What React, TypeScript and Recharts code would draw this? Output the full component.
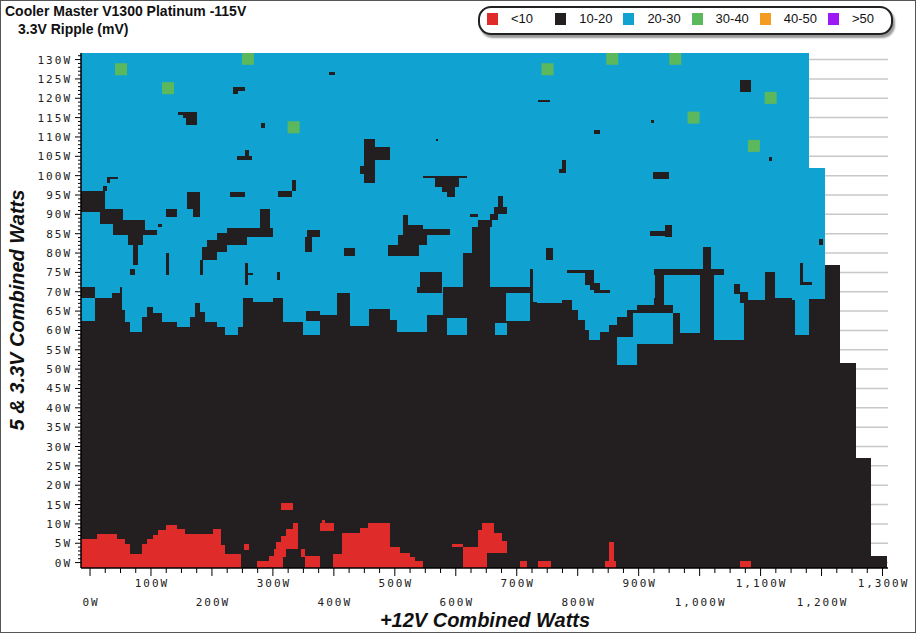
import React from 'react'
import {
  ComposedChart,
  XAxis,
  YAxis,
  CartesianGrid,
  ReferenceArea,
  Scatter
} from 'recharts'

const RED = '#e02b2b'
const BLACK = '#231f20'
const BLUE = '#10a3d1'
const GREEN = '#5cb85c'
const ORANGE = '#f39c1f'
const PURPLE = '#9b19f5'

const legendLabels = ['<10', '10-20', '20-30', '30-40', '40-50', '>50']
const legendColors = [RED, BLACK, BLUE, GREEN, ORANGE, PURPLE]

// y range of the measured grid (W on 5V & 3.3V)
const Y_MIN = -1.4
const Y_MAX = 131.7
const X_MIN = -14.8
const X_MAX = 1309

// tested load columns: [from W, to W, highest 5V+3.3V load]
const columnTops: [number, number, number][] = [
  [-14.8, 1179, 131.7],
  [1179, 1205, 102],
  [1205, 1230, 76.8],
  [1230, 1256, 51.7],
  [1256, 1281, 27],
  [1281, 1308, 1.6]
]

// where the 20-30mV zone starts (step start on +12V, 5V+3.3V load)
const blueFloor: [number, number | null][] = [
  [-14.8, 62.5], [8.2, 68.3], [35.5, 69.6], [49.3, 71.1], [52, 65.2], [57.4, 62.2],
  [65.6, 59.7], [84.7, 63.5], [93, 66.1], [104, 64.4], [117.6, 62.2], [142.2, 61],
  [164, 63.5], [172.3, 67], [180.5, 64.8], [188.7, 62.2], [207.8, 61], [221.5, 58.8],
  [243.4, 61], [251.6, 68.5], [268, 67.4], [300.8, 68.5], [317.2, 62.2], [350, 58.8],
  [377, 63.9], [405, 69.6], [427, 61.1], [457, 65.5], [492, 62.7], [503, 59.6],
  [553, 63.9], [579.5, 71.3], [722, 76], [727, 67.4], [733, 67], [774, 67.8],
  [790, 65.3], [801, 62.7], [812, 60.2], [818, 57.5], [837, 59.6], [851, 61.5],
  [864, 63.5], [881, 65.3], [897, 66.5], [924.5, 68.5], [941, 66.5], [957, 64.4],
  [968, 59.3], [1001, 62], [1023, 57.5], [1072, 69.5], [1075, 67.8], [1124, 68.5],
  [1151, 67.8], [1157, 58.8], [1179, 68.2], [1205, null]
]

// 10-20mV pockets inside the 20-30mV zone: [x1, x2, y1, y2]
const blackIslands: [number, number, number, number][] = [
  [-14.8, 24.6, 90.7, 96.1], [22, 27.3, 96.1, 97.4], [16.4, 54.7, 87.6, 91.5],
  [38.3, 90.2, 84.6, 88.5], [54.7, 109.4, 84.6, 85.9], [62.9, 87.5, 82.1, 84.6],
  [71.1, 79.3, 76.9, 82.1], [65.6, 73.8, 74.3, 76], [27.3, 46.5, 99.2, 99.7],
  [27.3, 33, 98, 99.2], [158.6, 180.5, 91.5, 95.8], [169.5, 180.5, 89.4, 91.5],
  [124.7, 142.2, 89.4, 91.5], [112.1, 117.6, 86.8, 87.6], [229.7, 254.3, 94.5, 95.8],
  [308.6, 331.8, 94.5, 96], [330.9, 338.4, 96, 98.8],
  [183.2, 207.8, 78.2, 81.6], [191.4, 224.2, 80.3, 83.3], [207.8, 257, 82.1, 85.1],
  [224.2, 300.8, 84.2, 86.4], [279, 295.3, 86.4, 91.5], [180.5, 185.9, 74.3, 78.2],
  [124.7, 130.2, 74.3, 79.9], [254.3, 259.8, 71.7, 77.3], [259.8, 268, 74.3, 74.9],
  [306.3, 311.7, 73, 75.1], [355.4, 377.4, 84.2, 85.9], [352.7, 363.6, 80.3, 84.2],
  [-14.8, 8.2, 68.5, 71.1], [355, 377, 62.5, 65],
  [145, 176.2, 115.8, 116.5], [152, 176.2, 114.8, 115.8], [157.5, 176.2, 113, 114.8],
  [235, 254, 122, 123], [235, 243, 121.2, 122], [280, 287, 112.4, 113.6],
  [254, 260, 105.2, 106.7], [241.6, 266, 104, 105.2], [392, 402, 126, 126.8],
  [450, 468, 98, 109.6], [468, 492, 104, 107.4], [443, 456, 100.5, 102.5],
  [547, 618, 99.4, 99.9], [566, 604.5, 97.1, 99.4], [577, 599, 95.8, 97.1],
  [585, 599, 94.5, 95.8],
  [514, 522, 87.2, 89.8], [514, 547, 84.6, 87.2], [525, 591, 84.6, 86.1],
  [506, 553, 82, 84.6], [489, 539, 79.2, 82], [416, 435, 79.2, 81.2],
  [568, 571, 109, 109.6],
  [670, 677, 91.9, 94.7], [662, 683.5, 90.2, 91.9], [656, 670, 88.5, 90.2],
  [637, 659, 86.8, 88.5], [626, 656, 79.9, 86.8], [612, 656, 71.3, 79.9],
  [623, 637, 89.3, 90.2], [541, 577, 69.6, 75.1], [536, 558, 69.6, 71.3],
  [1067, 1085, 121.6, 124.6], [735, 755, 119, 119.6], [827, 837, 110.8, 111.8],
  [920, 925, 113.6, 114.3], [775, 780, 100.6, 104], [769, 780, 100.6, 101.8],
  [924, 949, 99.2, 101], [943, 955, 84.2, 87.2], [919, 955, 84.4, 85.6],
  [748, 760, 78.2, 81.2], [782, 823, 74.8, 75.6], [812, 826, 71.7, 75.6],
  [820, 837, 70.4, 72.2], [826, 853, 69.6, 70.4],
  [924.5, 1039.6, 74.2, 76], [927, 941, 67, 74.7], [1001, 1023, 62, 76],
  [1006, 1018, 76, 81.5], [1056, 1066, 69.5, 72], [1066, 1080, 67, 70],
  [1164, 1170, 71.8, 77.5], [1164, 1184, 71.8, 72.6], [1196, 1203, 82.2, 83.7],
  [1113, 1118, 103.8, 104.8], [1107, 1124, 67.8, 75.1]
]

// 20-30mV pockets inside the 10-20mV zone
const blueHoles: [number, number, number, number][] = [
  [585, 618, 58.8, 63.1],
  [664, 684, 58.8, 62],
  [683, 722, 62.5, 69.6],
  [891.5, 957, 56.5, 64.5],
  [864, 897, 51, 58.3]
]

// top of the <10mV zone along the bottom (step start, top or null)
const redTop: [number, number | null][] = [
  [-14.8, 6.2], [11, 7.5], [43.8, 6.2], [57.4, 4.9], [65.6, 2.3], [84.7, 4.9],
  [92.9, 6.2], [104, 7.2], [112, 8.4], [124, 9.6], [142, 8.6], [156, 7.5],
  [202, 8.6], [214.8, 4.5], [221.9, 2.2], [247.6, null], [273.9, 0.3], [293, 1.8],
  [301, 3.5], [305, 5.3], [313.4, 6.9], [321.6, 8.6], [332.5, 10.2], [340.7, 3.4],
  [352, 1.7], [377, null], [399, 2.2], [413, 7.7], [443, 9], [456.5, 10.2],
  [492, 3.9], [508.6, 2.6], [525, 1.4], [533, 0.3], [547, null], [612, 3.9],
  [637, 8.5], [643, 10.2], [662, 7.7], [675.5, 5.5], [683.6, null], [705, 0.3],
  [716.5, null], [735, 0.3], [757, null], [845, 0.3], [851, 5.2], [859, 0.3],
  [862, null], [1066, 0.3], [1085, null], [1308, null]
]

const redIslands: [number, number, number, number][] = [
  [253, 260.6, 3.2, 4.9],
  [313.6, 332.8, 13.5, 15.4],
  [377, 401, 8.2, 10.2],
  [380, 385, 10.2, 11],
  [593, 612, 3.9, 4.9]
]

const blackInRed: [number, number, number, number][] = [
  [321.6, 346, 1.5, 3.4],
  [316, 352, -1.4, 1.5],
  [651, 683.6, -1.4, 2.6]
]

// 30-40mV readings
const greenCells = [
  { x: 50.8, y: 127.5 }, { x: 259, y: 130.2 }, { x: 128, y: 122.6 },
  { x: 334, y: 112.5 }, { x: 750.5, y: 127.5 }, { x: 856.7, y: 130.2 },
  { x: 960, y: 130.2 }, { x: 990, y: 115 }, { x: 1116.5, y: 120.1 },
  { x: 1089, y: 107.7 }
]

const yTicks = Array.from({ length: 132 }, (_, i) => i)
const xTicks = Array.from({ length: 53 }, (_, i) => i * 25)
const gridValues = Array.from({ length: 27 }, (_, i) => i * 5)

const tickFont = {
  fontFamily: '"DejaVu Sans Mono", monospace',
  fontSize: 11,
  letterSpacing: 2,
  fill: '#222'
}

const topAt = (x: number) => {
  const col = columnTops.find(([a, b]) => x >= a && x < b)
  return col ? col[2] : Y_MIN
}

const YTick = (props: any) => {
  const { x, y, payload } = props
  const v = payload.value
  const major = v % 5 === 0
  return (
    <g>
      <line x1={x - (major ? 6 : 3)} x2={x} y1={y} y2={y} stroke="#000" />
      {major && (
        <text x={x - 9} y={y} dy={4} textAnchor="end" style={tickFont}>
          {v}W
        </text>
      )}
    </g>
  )
}

const XTick = (props: any) => {
  const { x, y, payload } = props
  const v = payload.value
  const major = v % 100 === 0
  const upper = (v / 100) % 2 === 1
  return (
    <g>
      <line x1={x} x2={x} y1={y} y2={y + (major ? 8 : 5)} stroke="#000" />
      {major && (
        <text x={x + 1} y={y + (upper ? 19 : 38)} textAnchor="middle" style={tickFont}>
          {v.toLocaleString('en-US')}W
        </text>
      )}
    </g>
  )
}

const GreenCell = (props: any) => {
  const { cx, cy } = props
  return <rect x={cx - 6} y={cy - 6} width={12} height={12} fill={GREEN} />
}

const area = (key: string, x1: number, x2: number, y1: number, y2: number, fill: string) => (
  <ReferenceArea
    key={key}
    x1={x1}
    x2={x2}
    y1={y1}
    y2={y2}
    fill={fill}
    fillOpacity={1}
    stroke="none"
    ifOverflow="hidden"
    shapeRendering="crispEdges"
  />
)

export default function App() {
  const columns = columnTops.map(([a, b, top], i) => area(`c${i}`, a, b, Y_MIN, top, BLACK))

  const blueBands = blueFloor.slice(0, -1).map(([x1, floor], i) => {
    const x2 = blueFloor[i + 1][0]
    if (floor === null) return null
    return area(`b${i}`, x1, x2, floor, topAt(x1), BLUE)
  })

  const redBands = redTop.slice(0, -1).map(([x1, top], i) => {
    const x2 = redTop[i + 1][0]
    if (top === null) return null
    return area(`r${i}`, x1, x2, Y_MIN, top, RED)
  })

  return (
    <div
      style={{
        position: 'absolute',
        left: 0,
        top: 0,
        width: 916,
        height: 633,
        background: '#fff',
        fontFamily: '"Liberation Sans", Arial, sans-serif'
      }}
    >
      <ComposedChart
        width={916}
        height={633}
        margin={{ top: 53, right: 28, bottom: 0, left: 0 }}
      >
        <CartesianGrid
          vertical={false}
          horizontalValues={gridValues}
          stroke="#c8c8c8"
          strokeWidth={1.5}
        />
        <XAxis
          type="number"
          dataKey="x"
          domain={[X_MIN, X_MAX]}
          allowDataOverflow
          ticks={xTicks}
          interval={0}
          height={65}
          tickSize={0}
          tickMargin={0}
          tickLine={false}
          tick={<XTick />}
          axisLine={{ stroke: '#000', strokeWidth: 1.5 }}
        />
        <YAxis
          type="number"
          dataKey="y"
          domain={[Y_MIN, Y_MAX]}
          allowDataOverflow
          ticks={yTicks}
          interval={0}
          width={81}
          tickSize={0}
          tickMargin={0}
          tickLine={false}
          tick={<YTick />}
          axisLine={{ stroke: '#000', strokeWidth: 1.5 }}
        />
        {columns}
        {blueBands}
        {blackIslands.map(([a, b, c, d], i) => area(`k${i}`, a, b, c, d, BLACK))}
        {blueHoles.map(([a, b, c, d], i) => area(`h${i}`, a, b, c, d, BLUE))}
        {redBands}
        {redIslands.map(([a, b, c, d], i) => area(`ri${i}`, a, b, c, d, RED))}
        {blackInRed.map(([a, b, c, d], i) => area(`kr${i}`, a, b, c, d, BLACK))}
        <Scatter data={greenCells} shape={<GreenCell />} isAnimationActive={false} />
      </ComposedChart>

      <div style={{ position: 'absolute', left: 5, top: 3, fontSize: 14, fontWeight: 700, color: '#111' }}>
        Cooler Master V1300 Platinum -115V
      </div>
      <div style={{ position: 'absolute', left: 18, top: 21, fontSize: 14, fontWeight: 700, color: '#111' }}>
        3.3V Ripple (mV)
      </div>

      <div
        style={{
          position: 'absolute',
          left: 478,
          top: 6,
          width: 411,
          height: 25,
          border: '2px solid #222',
          borderRadius: 13,
          boxShadow: '2px 3px 2px #999',
          background: '#fff'
        }}
      >
        {legendLabels.map((label, i) => (
          <div
            key={label}
            style={{ position: 'absolute', left: 7 + i * 68.2, top: 5, display: 'flex', alignItems: 'center' }}
          >
            <div style={{ width: 11, height: 12, background: legendColors[i] }} />
            <span style={{ marginLeft: 13, fontSize: 13, color: '#111', lineHeight: '12px' }}>{label}</span>
          </div>
        ))}
      </div>

      <div
        style={{
          position: 'absolute',
          left: 17,
          top: 310,
          transform: 'translate(-50%, -50%) rotate(-90deg)',
          whiteSpace: 'nowrap',
          fontSize: 20,
          fontWeight: 700,
          fontStyle: 'italic',
          color: '#111'
        }}
      >
        5 &amp; 3.3V Combined Watts
      </div>
      <div
        style={{
          position: 'absolute',
          left: 485,
          top: 620,
          transform: 'translate(-50%, -50%)',
          whiteSpace: 'nowrap',
          fontSize: 20,
          fontWeight: 700,
          fontStyle: 'italic',
          color: '#111'
        }}
      >
        +12V Combined Watts
      </div>
      <div
        style={{
          position: 'absolute',
          left: 0,
          top: 0,
          width: 916,
          height: 633,
          boxSizing: 'border-box',
          border: '1px solid #555',
          pointerEvents: 'none'
        }}
      />
    </div>
  )
}
